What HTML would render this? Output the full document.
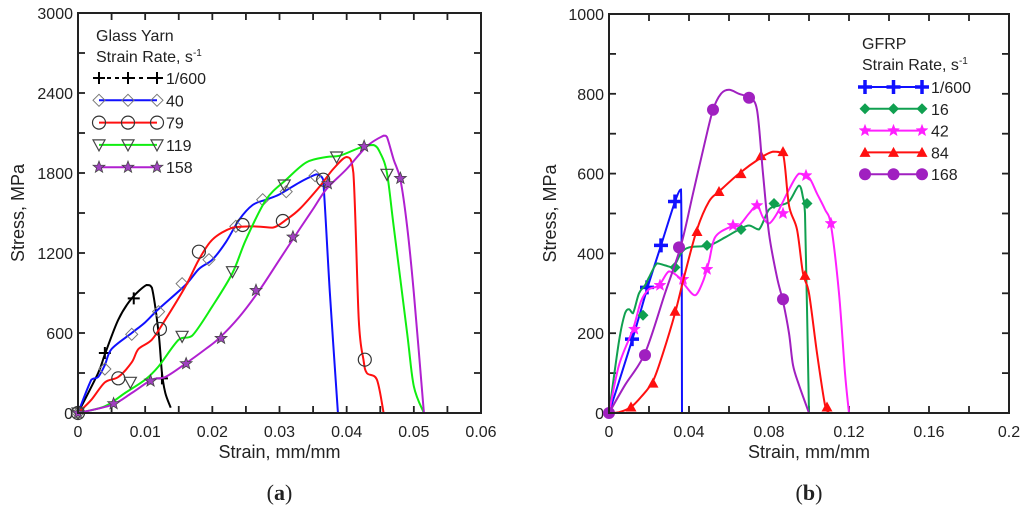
<!DOCTYPE html>
<html><head><meta charset="utf-8"><style>
body{margin:0;background:#fff;width:1024px;height:509px;overflow:hidden}
svg{display:block}
text{font-family:"Liberation Sans",sans-serif;fill:#222}
</style></head><body>
<svg id="s" width="1024" height="509"></svg>
<script>
// ---------- Chart (a) data ----------
const aXTicks=[0,0.01,0.02,0.03,0.04,0.05,0.06];
const aXTickLabels=["0","0.01","0.02","0.03","0.04","0.05","0.06"];
const aYTicks=[0,600,1200,1800,2400,3000];
const aYTickLabels=["0","600","1200","1800","2400","3000"];
const aLabels=["1/600","40","79","119","158"];
const a0=[[0,0],[0.003,300],[0.004,440],[0.006,700],[0.008,860],[0.0102,960],[0.011,940],[0.012,600],[0.0125,300],[0.013,150],[0.0138,40]];
const a0m=[[0.004,450],[0.0083,860],[0.0125,260]];
const a1=[[0,0],[0.002,250],[0.003,270],[0.004,360],[0.005,480],[0.008,600],[0.010,680],[0.012,780],[0.016,960],[0.018,1080],[0.020,1150],[0.022,1280],[0.024,1450],[0.026,1560],[0.028,1600],[0.030,1640],[0.033,1730],[0.0355,1790],[0.036,1780],[0.0365,1750],[0.0375,900],[0.0387,0]];
const a1m=[[0,0],[0.004,330],[0.008,590],[0.012,760],[0.0155,970],[0.0195,1150],[0.0235,1400],[0.0275,1600],[0.031,1660],[0.0353,1780]];
const a2=[[0,0],[0.002,100],[0.004,230],[0.006,270],[0.008,380],[0.009,480],[0.011,550],[0.013,700],[0.016,950],[0.018,1150],[0.020,1300],[0.023,1390],[0.026,1400],[0.029,1390],[0.031,1450],[0.033,1530],[0.036,1700],[0.038,1830],[0.040,1920],[0.041,1800],[0.0418,700],[0.0425,400],[0.043,300],[0.0445,250],[0.0455,0]];
const a2m=[[0,0],[0.006,260],[0.0122,630],[0.018,1210],[0.0245,1410],[0.0305,1440],[0.0365,1750],[0.0427,400]];
const a3=[[0,0],[0.004,50],[0.007,150],[0.010,250],[0.012,350],[0.015,550],[0.017,580],[0.020,800],[0.023,1050],[0.025,1300],[0.028,1600],[0.031,1750],[0.034,1880],[0.037,1920],[0.039,1930],[0.042,1990],[0.044,2010],[0.045,1950],[0.046,1800],[0.047,1400],[0.049,600],[0.050,200],[0.0515,0]];
const a3m=[[0,0],[0.0078,230],[0.0155,575],[0.023,1060],[0.0307,1710],[0.0385,1920],[0.046,1790]];
const a4=[[0,0],[0.005,60],[0.008,150],[0.011,250],[0.013,270],[0.016,370],[0.019,480],[0.021,560],[0.024,720],[0.027,920],[0.030,1150],[0.033,1380],[0.035,1530],[0.037,1680],[0.040,1830],[0.043,2000],[0.0455,2080],[0.046,2070],[0.047,1900],[0.048,1750],[0.049,1400],[0.050,900],[0.0515,0]];
const a4m=[[0,0],[0.0053,70],[0.0108,240],[0.0161,370],[0.0213,560],[0.0265,920],[0.032,1320],[0.0372,1720],[0.0426,2000],[0.048,1760]];
// ---------- Chart (b) data ----------
const bXTicks=[0,0.04,0.08,0.12,0.16,0.2];
const bXTickLabels=["0","0.04","0.08","0.12","0.16","0.2"];
const bYTicks=[0,200,400,600,800,1000];
const bYTickLabels=["0","200","400","600","800","1000"];
const bLabels=["1/600","16","42","84","168"];
const b0=[[0,0],[0.012,190],[0.019,310],[0.026,420],[0.033,530],[0.036,560],[0.0365,0]];
const b0m=[[0.0115,185],[0.019,315],[0.026,420],[0.033,530]];
const b1=[[0,0],[0.005,180],[0.008,250],[0.010,260],[0.012,250],[0.015,300],[0.018,320],[0.020,340],[0.024,375],[0.028,370],[0.032,365],[0.036,400],[0.040,415],[0.05,420],[0.058,440],[0.065,460],[0.07,470],[0.075,460],[0.08,510],[0.085,520],[0.09,530],[0.095,570],[0.097,540],[0.098,500],[0.1,0]];
const b1m=[[0.017,245],[0.033,365],[0.049,420],[0.066,460],[0.0825,525],[0.099,525]];
const b2=[[0,0],[0.005,120],[0.012,210],[0.016,280],[0.02,310],[0.025,320],[0.03,355],[0.035,340],[0.038,320],[0.043,295],[0.047,330],[0.05,380],[0.053,440],[0.06,465],[0.065,470],[0.07,500],[0.074,520],[0.077,490],[0.08,475],[0.084,500],[0.09,560],[0.095,600],[0.1,590],[0.104,550],[0.108,510],[0.111,470],[0.115,300],[0.118,100],[0.12,0]];
const b2m=[[0.0127,210],[0.0255,320],[0.037,335],[0.049,360],[0.062,470],[0.074,520],[0.087,500],[0.0985,595],[0.111,475]];
const b3=[[0,0],[0.005,2],[0.011,15],[0.016,40],[0.022,80],[0.027,150],[0.033,250],[0.038,350],[0.044,460],[0.05,530],[0.055,555],[0.065,600],[0.076,640],[0.082,655],[0.087,650],[0.09,520],[0.094,460],[0.097,350],[0.1,300],[0.104,150],[0.108,20],[0.11,0]];
const b3m=[[0.011,15],[0.022,75],[0.033,255],[0.044,455],[0.055,555],[0.066,600],[0.076,645],[0.087,655],[0.098,345],[0.109,15]];
const b4=[[0,0],[0.008,70],[0.018,150],[0.028,300],[0.036,420],[0.042,550],[0.048,680],[0.052,760],[0.056,800],[0.06,810],[0.065,800],[0.07,790],[0.074,760],[0.077,600],[0.08,450],[0.084,340],[0.087,280],[0.09,200],[0.092,120],[0.095,70],[0.1,0]];
const b4m=[[0,0],[0.018,145],[0.035,415],[0.052,760],[0.07,790],[0.087,285]];

const NS="http://www.w3.org/2000/svg";
const svg=document.getElementById('s');
function mk(tag,attrs,parent){const e=document.createElementNS(NS,tag);for(const k in attrs)e.setAttribute(k,attrs[k]);(parent||svg).appendChild(e);return e;}
function cl(v,a,b){const lo=Math.min(a,b),hi=Math.max(a,b);return Math.max(lo,Math.min(hi,v));}
function smooth(pts){let d=`M${pts[0][0]},${pts[0][1]}`;for(let i=0;i<pts.length-1;i++){const p0=pts[i-1]||pts[i],p1=pts[i],p2=pts[i+1],p3=pts[i+2]||p2;const t=0.16;
const c1x=cl(p1[0]+(p2[0]-p0[0])*t,p1[0],p2[0]),c1y=cl(p1[1]+(p2[1]-p0[1])*t,p1[1],p2[1]);
const c2x=cl(p2[0]-(p3[0]-p1[0])*t,p1[0],p2[0]),c2y=cl(p2[1]-(p3[1]-p1[1])*t,p1[1],p2[1]);
d+=` C${c1x},${c1y} ${c2x},${c2y} ${p2[0]},${p2[1]}`;}return d;}
function marker(g,type,x,y,col){
  if(type==='plus'){mk('path',{d:`M${x-6},${y}H${x+6}M${x},${y-6}V${y+6}`,stroke:col,'stroke-width':2,fill:'none'},g);}
  else if(type==='plusB'){mk('path',{d:`M${x-7},${y}H${x+7}M${x},${y-7}V${y+7}`,stroke:col,'stroke-width':3.5,fill:'none'},g);}
  else if(type==='diamond'){mk('path',{d:`M${x},${y-6}L${x+6},${y}L${x},${y+6}L${x-6},${y}Z`,stroke:'#777',fill:'none','stroke-width':1},g);}
  else if(type==='circle'){mk('circle',{cx:x,cy:y,r:6.5,stroke:'#333',fill:'none','stroke-width':1.2},g);}
  else if(type==='tri'){mk('path',{d:`M${x-6},${y-5}H${x+6}L${x},${y+6}Z`,stroke:'#444',fill:'none','stroke-width':1.2},g);}
  else if(type==='star'||type==='starF'){let d='';for(let i=0;i<10;i++){const r=i%2?2.6:6.2,a=-Math.PI/2+i*Math.PI/5;d+=(i?'L':'M')+(x+r*Math.cos(a))+','+(y+r*Math.sin(a));}mk('path',{d:d+'Z',fill:col,stroke:type==='star'?'#444':col,'stroke-width':type==='star'?0.8:0.5},g);}
  else if(type==='diamondF'){mk('path',{d:`M${x},${y-5.5}L${x+5.5},${y}L${x},${y+5.5}L${x-5.5},${y}Z`,fill:col},g);}
  else if(type==='triF'){mk('path',{d:`M${x-5.5},${y+4.5}H${x+5.5}L${x},${y-5.5}Z`,fill:col},g);}
  else if(type==='dot'){mk('circle',{cx:x,cy:y,r:6,fill:col},g);}
}
function chart(cfg){
  const g=mk('g',{});
  
  
  const X=v=>cfg.x0+(v-cfg.xmin)/(cfg.xmax-cfg.xmin)*(cfg.x1-cfg.x0);
  const Y=v=>cfg.y0-(v-cfg.ymin)/(cfg.ymax-cfg.ymin)*(cfg.y0-cfg.y1);
  const tg=mk('g',{stroke:'#222','stroke-width':1.8},g);
  
  
  for(let v=cfg.xmin;v<=cfg.xmax+1e-9;v+=cfg.xstep){const x=X(v);mk('line',{x1:x,x2:x,y1:cfg.y0,y2:cfg.y0-7},tg);mk('line',{x1:x,x2:x,y1:cfg.y1,y2:cfg.y1+7},tg);}
  for(let v=cfg.ymin;v<=cfg.ymax+1e-9;v+=cfg.ystep){const y=Y(v);mk('line',{x1:cfg.x0,x2:cfg.x0+7,y1:y,y2:y},tg);mk('line',{x1:cfg.x1,x2:cfg.x1-7,y1:y,y2:y},tg);}
  cfg.xt.forEach((v,i)=>{const t=mk('text',{x:X(v),y:cfg.y0+24,'text-anchor':'middle','font-size':16},g);t.textContent=cfg.xl[i];});
  cfg.yt.forEach((v,i)=>{const t=mk('text',{x:cfg.x0-5,y:Y(v)+6,'text-anchor':'end','font-size':16},g);t.textContent=cfg.yl[i];});
  const xt=mk('text',{x:(cfg.x0+cfg.x1)/2,y:cfg.y0+45,'text-anchor':'middle','font-size':18},g);xt.textContent='Strain, mm/mm';
  
  const yt=mk('text',{x:0,y:0,'text-anchor':'middle','font-size':18,transform:`translate(${cfg.ytx},${(cfg.y0+cfg.y1)/2}) rotate(-90)`},g);yt.textContent='Stress, MPa';
  
  cfg.series.forEach((s,i)=>{
    const sg=mk('g',{},g);
    
    
    mk('path',{d:smooth(s.line.map(p=>[X(p[0]),Y(p[1])])),stroke:s.col,'stroke-width':2,fill:'none'},sg);
    s.marks.forEach(p=>marker(sg,s.m,X(p[0]),Y(p[1]),s.mc||s.col));
  });
  mk('rect',{x:cfg.x0,y:cfg.y1,width:cfg.x1-cfg.x0,height:cfg.y0-cfg.y1,fill:'none',stroke:'#222','stroke-width':2},g);
  const lg=mk('g',{},g);
  
  
  const l=cfg.leg;
  let t=mk('text',{x:l.x,y:l.y,'font-size':16},lg);t.textContent=cfg.title;
  t=mk('text',{x:l.x,y:l.y+21,'font-size':16},lg);t.innerHTML='Strain Rate, s<tspan dy="-6" font-size="10">-1</tspan>';
  cfg.series.forEach((s,i)=>{
    const eg=mk('g',{},lg);
    
    
    const y=l.ey+i*l.dy;
    mk('line',{x1:l.lx,x2:l.lx+l.lw,y1:y,y2:y,stroke:s.legcol||s.col,'stroke-width':2,'stroke-dasharray':s.dash||''},eg);
    [0,0.5,1].forEach(f=>marker(eg,s.m,l.lx+f*l.lw,y,s.mc||s.col));
    const tt=mk('text',{x:l.lx+l.lw+9,y:y+6,'font-size':16},eg);tt.textContent=cfg.labels[i];
  });
  const c=mk('text',{x:(cfg.x0+cfg.x1)/2,y:500,'text-anchor':'middle','font-size':22},g);
  c.innerHTML='(<tspan font-weight="bold">'+cfg.cap+'</tspan>)';
  c.style.fontFamily='"Liberation Serif",serif';
  
}
chart({name:'chart-a-glass-yarn',x0:78,x1:481,y0:413,y1:13,xmin:0,xmax:0.06,ymin:0,ymax:3000,xstep:0.005,ystep:300,
 xt:aXTicks,xl:aXTickLabels,yt:aYTicks,yl:aYTickLabels,ytx:24,title:'Glass Yarn',labels:aLabels,cap:'a',
 leg:{x:96,y:41,ey:78,dy:22.3,lx:99,lw:58},
 series:[{line:a0,marks:a0m,col:'#000',m:'plus',dash:'4,4'},{line:a1,marks:a1m,col:'#1010ff',m:'diamond'},{line:a2,marks:a2m,col:'#ff1010',m:'circle'},{line:a3,marks:a3m,col:'#10ee10',m:'tri'},{line:a4,marks:a4m,col:'#b020d0',m:'star',mc:'#a040c0'}]});
chart({name:'chart-b-gfrp',x0:609,x1:1009,y0:413,y1:14,xmin:0,xmax:0.2,ymin:0,ymax:1000,xstep:0.02,ystep:100,
 xt:bXTicks,xl:bXTickLabels,yt:bYTicks,yl:bYTickLabels,ytx:556,title:'GFRP',labels:bLabels,cap:'b',
 leg:{x:862,y:49,ey:87,dy:21.8,lx:865,lw:57},
 series:[{line:b0,marks:b0m,col:'#1010ff',m:'plusB'},{line:b1,marks:b1m,col:'#10a050',m:'diamondF'},{line:b2,marks:b2m,col:'#ff20ff',m:'starF'},{line:b3,marks:b3m,col:'#ff1010',m:'triF'},{line:b4,marks:b4m,col:'#a020c0',m:'dot'}]});
</script>
</body></html>
